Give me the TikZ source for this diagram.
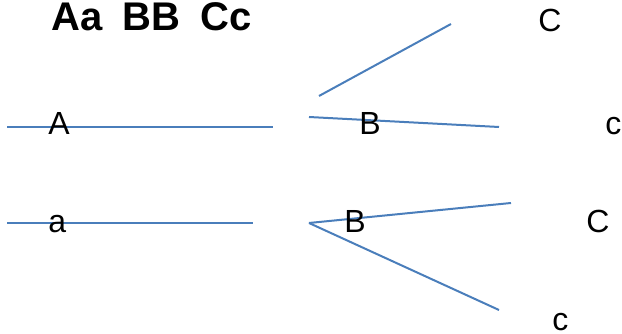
\documentclass[tikz,border=0pt]{standalone}
\usepackage{fontspec}
\setmainfont{Liberation Sans}
\usetikzlibrary{positioning}
\definecolor{LBlue}{HTML}{4A7EBB}

\begin{document}
\begin{tikzpicture}[x=0.75pt, y=-0.75pt,
    lbl/.style={anchor=base west, inner sep=0pt, font=\fontsize{24}{28}\selectfont},
    ttl/.style={anchor=base west, inner sep=0pt, font=\fontsize{30}{36}\selectfont\bfseries},
    ln/.style={LBlue, line width=1.5pt}]
    \useasboundingbox (0,0) rectangle (622,334);

    % Title
    \node[ttl] (title) at (51, 31) {Aa\hspace{15pt}BB\hspace{15pt}Cc};

    % Top row
    \coordinate (t1) at (7, 127);
    \coordinate (t2) at (273, 127);
    \coordinate (tv) at (309, 117);
    \coordinate (tu) at (319, 96);
    \coordinate (tC) at (451, 24);
    \coordinate (tc) at (499, 127);
    \draw[ln] (t1) -- (t2);
    \draw[ln] (tu) -- (tC);
    \draw[ln] (tv) -- (tc);
    \node[lbl] (A) at (48, 135) {A};
    \node[lbl] (B1) at (359, 135) {B};
    \node[lbl] (C1) at (538, 32) {C};
    \node[lbl] (c1) at (605, 135) {c};

    % Bottom row
    \coordinate (b1) at (7, 223);
    \coordinate (b2) at (253, 223);
    \coordinate (bv) at (309, 223);
    \coordinate (bC) at (511, 203);
    \coordinate (bc) at (499, 310);
    \draw[ln] (b1) -- (b2);
    \draw[ln] (bv) -- (bC);
    \draw[ln] (bv) -- (bc);
    \node[lbl] (a) at (48, 233) {a};
    \node[lbl] (B2) at (344, 233) {B};
    \node[lbl] (C2) at (586, 233) {C};
    \node[lbl] (c2) at (552, 331) {c};
\end{tikzpicture}
\end{document}
